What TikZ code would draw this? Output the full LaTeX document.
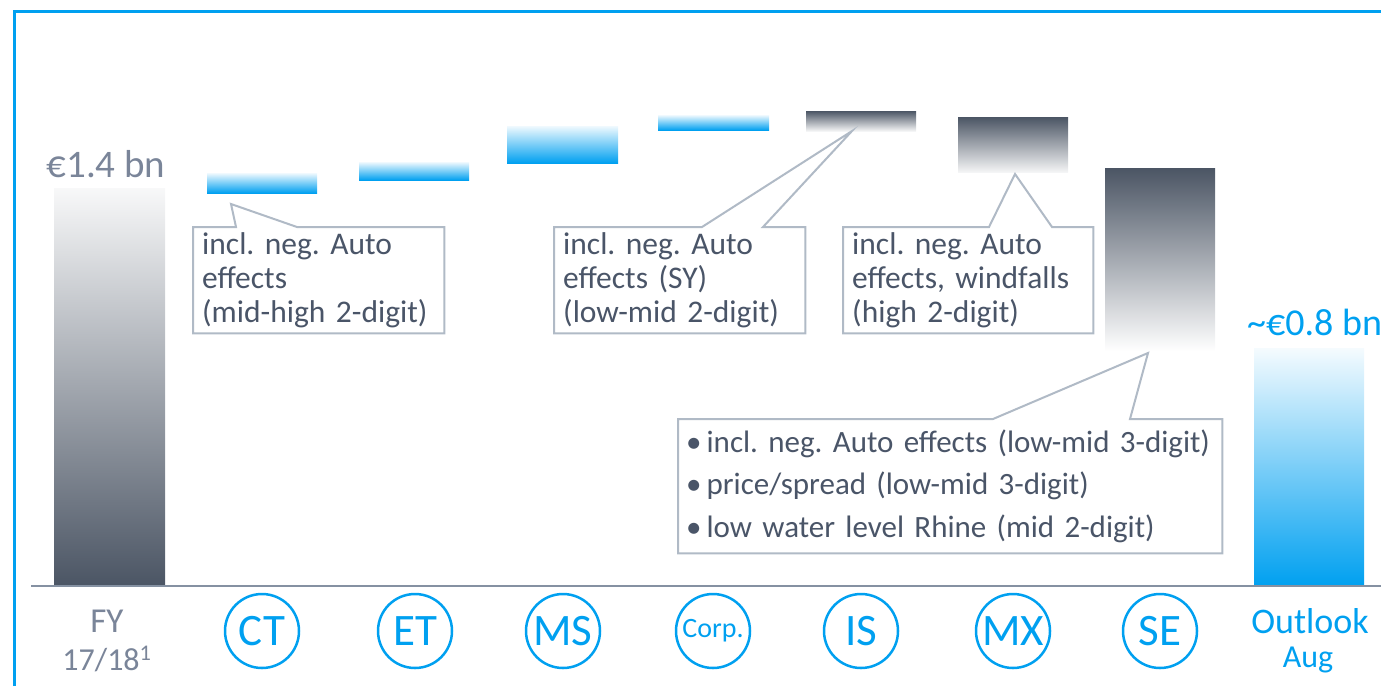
\documentclass[tikz,border=0pt]{standalone}
\usepackage{fontspec}
\setmainfont{Carlito}
\usepackage{tikz}
\usetikzlibrary{calc}
\definecolor{brand}{RGB}{0, 160, 240}
\definecolor{slate}{RGB}{75, 85, 100}
\definecolor{labelgray}{RGB}{122, 133, 153}
\definecolor{notetext}{RGB}{74, 85, 104}
\definecolor{noteline}{RGB}{176, 186, 198}
\definecolor{axisgray}{RGB}{133, 145, 162}
\frenchspacing

\begin{document}
\begin{tikzpicture}[x=1pt, y=-1pt,
  upbar/.style={top color=brand!6, bottom color=brand},
  downbar/.style={top color=slate, bottom color=slate!6},
  note/.style={anchor=north west, inner xsep=9pt, inner ysep=0pt, align=left,
    minimum height=106pt, text=notetext, font=\fontsize{31.5}{34}\selectfont},
  callout/.style={draw=noteline, line width=2pt, fill=white},
  unit/.style={circle, draw=brand, line width=2.5pt, minimum size=74pt,
    inner sep=0pt, text=brand, font=\fontsize{45}{45}\selectfont}]
  \useasboundingbox (0,0) rectangle (1381,686);

  % Frame
  \draw[brand, line width=3pt] (14,686) -- (14,11) -- (1381,11);

  % Start and outlook bars
  \shade[top color=slate!4, bottom color=slate] (54,188) rectangle (165,586);
  \shade[top color=brand!4, bottom color=brand] (1254,348) rectangle (1364,586);

  % Segment bars
  \shade[upbar] (207,173) rectangle (317,193);
  \shade[upbar] (359,162) rectangle (469,180);
  \shade[upbar] (507,126) rectangle (618,163);
  \shade[upbar] (658,115) rectangle (769,130);
  \shade[downbar] (806,111) rectangle (916,131);
  \shade[downbar] (958,117) rectangle (1068,172);
  \shade[top color=slate, bottom color=white] (1105,168) rectangle (1215,351);

  % Axis
  \draw[axisgray, line width=2pt] (31,586) -- (1381,586);

  % Callout tips
  \coordinate (tipCT) at (231,204);
  \coordinate (tipIS) at (852,131);
  \coordinate (tipMX) at (1015,174);
  \coordinate (tipSE) at (1148,353);

  % Callouts
  \node[note, text width=233pt] (noteCT) at (193,227) {};
  \draw[callout] (noteCT.north west) -- ++(43,0) -- (tipCT) -- ($(noteCT.north west)+(104,0)$)
    -- (noteCT.north east) |- (noteCT.south west) -- cycle;
  \node[note, text width=233pt] at (noteCT.north west) {incl. neg. Auto\\effects\\(mid-high 2-digit)};

  \node[note, text width=233pt] (noteIS) at (554,227) {};
  \draw[callout] (noteIS.north west) -- ++(148,0) -- (tipIS) -- ($(noteIS.north west)+(209,0)$)
    -- (noteIS.north east) |- (noteIS.south west) -- cycle;
  \node[note, text width=233pt] at (noteIS.north west) {incl. neg. Auto\\effects (SY)\\(low-mid 2-digit)};

  \node[note, text width=232pt] (noteMX) at (843,227) {};
  \draw[callout] (noteMX.north west) -- ++(146,0) -- (tipMX) -- ($(noteMX.north west)+(209,0)$)
    -- (noteMX.north east) |- (noteMX.south west) -- cycle;
  \node[note, text width=232pt] at (noteMX.north west) {incl. neg. Auto\\effects, windfalls\\(high 2-digit)};

  \node[note, inner xsep=8pt, text width=528pt, minimum height=134pt, font=\fontsize{31}{42.5}\selectfont] (noteSE) at (678,419) {};
  \draw[callout] (noteSE.north west) -- ++(315,0) -- (tipSE) -- ($(noteSE.north west)+(452,0)$)
    -- (noteSE.north east) |- (noteSE.south west) -- cycle;
  \node[note, inner xsep=8pt, text width=528pt, minimum height=134pt, font=\fontsize{31}{42.5}\selectfont]
    at (noteSE.north west) {\textbullet\hspace{5pt}incl. neg. Auto effects (low-mid 3-digit)\\
    \textbullet\hspace{5pt}price/spread (low-mid 3-digit)\\
    \textbullet\hspace{5pt}low water level Rhine (mid 2-digit)};

  % Values
  \node[anchor=base, text=labelgray, font=\fontsize{39}{39}\selectfont] (startval) at (106,177) {€1.4 bn};
  \node[anchor=base west, inner sep=0pt, text=brand, font=\fontsize{38}{38}\selectfont] (endval) at (1247,335) {\textasciitilde€0.8 bn};

  % Category labels
  \node[anchor=base, text=labelgray, font=\fontsize{35}{35}\selectfont] (fy) at (107,632) {FY};
  \node[anchor=base, text=labelgray, font=\fontsize{32}{32}\selectfont] (fyyear) at (107,670) {17/18\textsuperscript{1}};
  \node[unit] (ct) at (262,631) {CT};
  \node[unit] (et) at (415,631) {ET};
  \node[unit] (ms) at (563,631) {MS};
  \node[unit, font=\fontsize{28}{28}\selectfont] (corp) at (713,631) {Corp.};
  \node[unit] (is) at (861,631) {IS};
  \node[unit] (mx) at (1013,631) {MX};
  \node[unit] (se) at (1160,631) {SE};
  \node[anchor=base, text=brand, font=\fontsize{36}{36}\selectfont] (outlook) at (1310,633) {Outlook};
  \node[anchor=base, text=brand, font=\fontsize{32}{32}\selectfont] (aug) at (1308,667) {Aug};
\end{tikzpicture}
\end{document}
